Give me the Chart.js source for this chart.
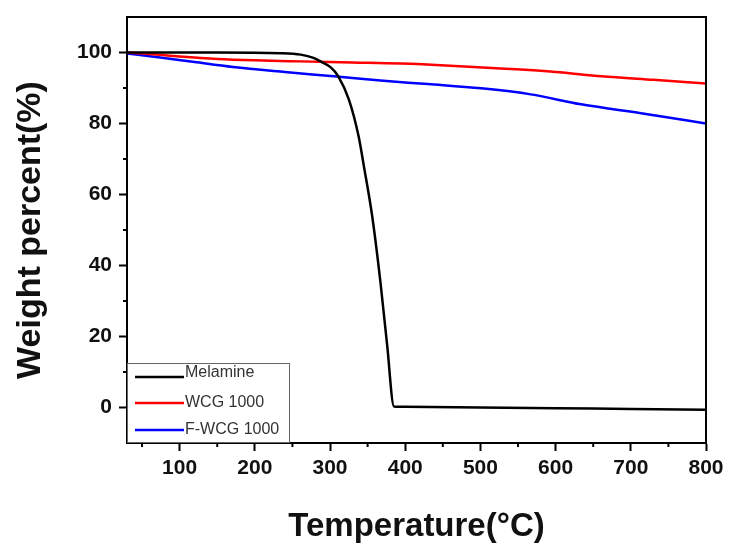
<!DOCTYPE html>
<html>
<head>
<meta charset="utf-8">
<script src="https://cdn.jsdelivr.net/npm/chart.js@4.4.0/dist/chart.umd.min.js"></script>
<style>
  html, body { margin: 0; padding: 0; background: #fff; }
  #wrap { width: 749px; height: 552px; }
</style>
</head>
<body>
<div id="wrap"><canvas id="tga"></canvas></div>
<script>
const tempMelamine = [30, 150, 234, 261, 278, 289, 301, 311, 325, 338, 345, 356, 367, 376, 385, 400, 500, 600, 700, 800]
const melamine = [100, 100, 99.8, 99.4, 98.5, 97.3, 95.8, 93.3, 86.8, 76.4, 68, 54, 35.4, 17.5, 0.3, 0.2, 0, -0.2, -0.4, -0.6]

const tempWcg = [30, 60, 100, 150, 200, 261, 330, 394, 460, 527, 600, 661, 730, 800]
const wcg = [100, 99.6, 98.9, 98.2, 97.8, 97.5, 97.2, 96.9, 96.3, 95.5, 94.5, 93.3, 92.3, 91.3]

const tempFwcg = [30, 74, 120, 171, 240, 305, 367, 430, 501, 567, 634, 720, 800]
const fwcg = [99.7, 98.6, 97.3, 95.9, 94.5, 93.3, 92.1, 91.1, 89.9, 88.2, 85.4, 82.7, 80]

const xTicks = [100, 200, 300, 400, 500, 600, 700, 800]
const yTicks = [0, 20, 40, 60, 80, 100]
const xMinor = [50, 150, 250, 350, 450, 550, 650, 750]
const yMinor = [10, 30, 50, 70, 90]

const fonte = 'Liberation Sans, Arial, sans-serif'

const pares = (xs, ys) => xs.map((x, i) => ({ x: x, y: ys[i] }))

// ticks menores, moldura e legenda dentro do grafico
const extras = {
    id: 'extras',
    afterDraw(chart) {
        const ctx = chart.ctx
        const area = chart.chartArea
        const sx = chart.scales.x
        const sy = chart.scales.y
        ctx.save()
        ctx.strokeStyle = '#000'
        ctx.lineWidth = 2
        ctx.beginPath()
        xMinor.forEach(v => {
            const px = sx.getPixelForValue(v)
            ctx.moveTo(px, area.bottom)
            ctx.lineTo(px, area.bottom + 4)
        })
        yMinor.forEach(v => {
            const py = sy.getPixelForValue(v)
            ctx.moveTo(area.left, py)
            ctx.lineTo(area.left - 4, py)
        })
        ctx.stroke()

        ctx.beginPath()
        ctx.moveTo(area.left, area.top)
        ctx.lineTo(area.right, area.top)
        ctx.lineTo(area.right, area.bottom)
        ctx.stroke()

        // legenda
        const bx = area.left, by = area.bottom - 80, bw = 162, bh = 80
        ctx.fillStyle = '#fff'
        ctx.fillRect(bx, by, bw, bh)
        ctx.strokeStyle = '#666'
        ctx.lineWidth = 1
        ctx.strokeRect(bx + 0.5, by + 0.5, bw, bh - 1)
        const linhas = [14, 40, 67]
        ctx.font = '16px ' + fonte
        ctx.textBaseline = 'middle'
        chart.data.datasets.forEach((ds, i) => {
            const ly = by + linhas[i]
            ctx.strokeStyle = ds.borderColor
            ctx.lineWidth = 2.5
            ctx.beginPath()
            ctx.moveTo(bx + 8, ly)
            ctx.lineTo(bx + 57, ly)
            ctx.stroke()
            ctx.fillStyle = '#333'
            ctx.fillText(ds.label, bx + 58, ly - (i === 0 ? 4 : 0))
        })
        ctx.restore()
    }
}

new Chart(document.getElementById('tga'), {
    type: 'line',
    data: {
        datasets: [
            { label: 'Melamine', data: pares(tempMelamine, melamine), borderColor: '#000000' },
            { label: 'WCG 1000', data: pares(tempWcg, wcg), borderColor: '#ff0000' },
            { label: 'F-WCG 1000', data: pares(tempFwcg, fwcg), borderColor: '#0000ff' }
        ]
    },
    options: {
        responsive: true,
        maintainAspectRatio: false,
        animation: false,
        layout: { padding: { left: 0, top: 17, right: 43, bottom: 0 } },
        elements: {
            point: { radius: 0 },
            line: { borderWidth: 2.5, cubicInterpolationMode: 'monotone' }
        },
        plugins: {
            legend: { display: false },
            tooltip: { enabled: false }
        },
        scales: {
            x: {
                type: 'linear',
                min: 30,
                max: 800,
                afterBuildTicks: s => { s.ticks = xTicks.map(v => ({ value: v })) },
                afterFit: s => { s.height = 109 },
                grid: { display: true, drawOnChartArea: false, tickLength: 8, tickWidth: 2, tickColor: '#000' },
                border: { display: true, color: '#000', width: 2 },
                ticks: { color: '#111', padding: 5, maxRotation: 0, font: { family: fonte, size: 21, weight: 'bold' } },
                title: {
                    display: true,
                    text: 'Temperature(°C)',
                    color: '#111',
                    padding: { top: 0, bottom: 5 },
                    font: { family: fonte, size: 33, weight: 'bold' }
                }
            },
            y: {
                min: -10,
                max: 110,
                afterBuildTicks: s => { s.ticks = yTicks.map(v => ({ value: v })) },
                afterFit: s => { s.width = 127; s.paddingTop = 0; s.paddingBottom = 0 },
                grid: { display: true, drawOnChartArea: false, tickLength: 8, tickWidth: 2, tickColor: '#000' },
                border: { display: true, color: '#000', width: 2 },
                ticks: { color: '#111', padding: 7, font: { family: fonte, size: 21, weight: 'bold' } },
                title: {
                    display: true,
                    text: 'Weight percent(%)',
                    color: '#111',
                    padding: { top: 10, bottom: 0 },
                    font: { family: fonte, size: 34, weight: 'bold' }
                }
            }
        }
    },
    plugins: [extras]
})
</script>
</body>
</html>
